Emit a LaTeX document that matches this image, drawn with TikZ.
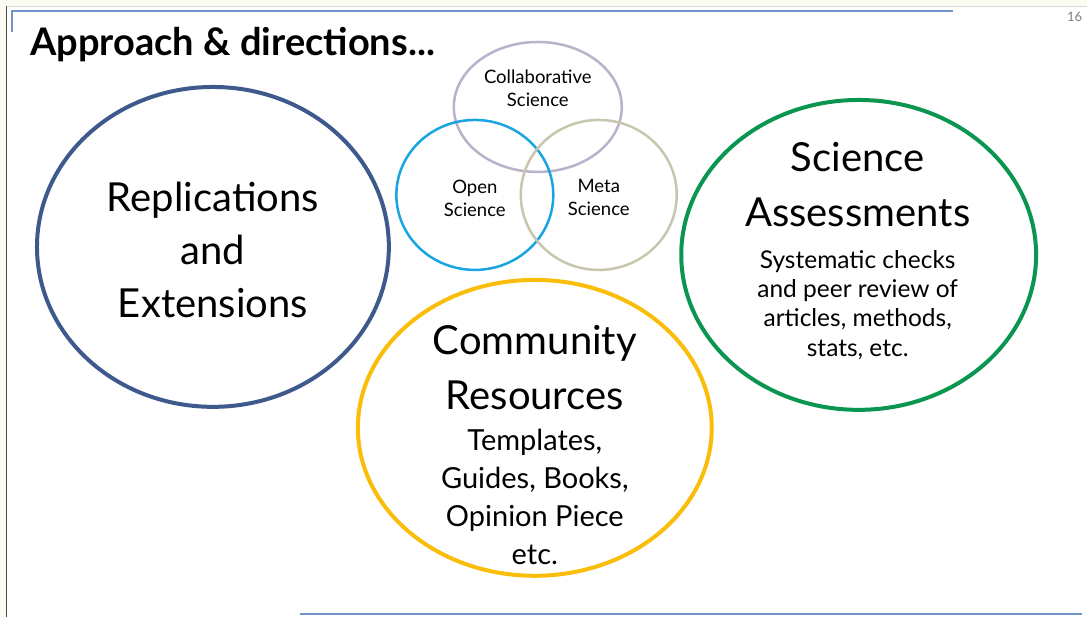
\documentclass[tikz,border=0pt]{standalone}
\usepackage{fontspec}
\setmainfont{Lato}
\usetikzlibrary{shapes.geometric}

\definecolor{cream}{RGB}{252,251,242}
\definecolor{slideblue}{RGB}{115,148,200}
\definecolor{replblue}{RGB}{62,90,140}
\definecolor{commgold}{RGB}{250,190,10}
\definecolor{assessgreen}{RGB}{10,150,80}
\definecolor{collabgrey}{RGB}{185,178,202}
\definecolor{opencyan}{RGB}{25,165,225}
\definecolor{metakhaki}{RGB}{200,198,172}

\begin{document}
\begin{tikzpicture}[x=1pt,y=-1pt]
    \tikzstyle{ring}=[ellipse, draw, line width=4pt, inner sep=0pt]
    \tikzstyle{venn}=[ellipse, draw, line width=2.5pt, inner sep=0pt]
    \tikzstyle{bigtext}=[align=center, inner sep=0pt, font=\fontsize{40}{53}\selectfont]
    \tikzstyle{headtext}=[align=center, inner sep=0pt, font=\fontsize{40}{55}\selectfont]
    \tikzstyle{midtext}=[align=center, inner sep=0pt, font=\fontsize{29}{38}\selectfont]
    \tikzstyle{smalltext}=[align=center, inner sep=0pt, font=\fontsize{24.5}{29.5}\selectfont]
    \tikzstyle{venntext}=[align=center, inner sep=0pt, font=\fontsize{18.5}{23}\selectfont]

% slide frame
\fill[cream] (0,0) rectangle (1087,617);
\fill[white] (7,6) rectangle (1087,617);
\draw[black!70, line width=1pt] (7,6) -- (7,617);
\draw[black!15, line width=0.8pt] (7,6) -- (1087,6);
\draw[slideblue, line width=2pt] (12,32) -- (12,11) -- (953,11);
\draw[slideblue, line width=2pt] (300,614) -- (1082,614);
\node[text=black!50, font=\fontsize{13}{13}\selectfont] (pagenum) at (1075,17) {16};

% title
\node[anchor=base west, inner sep=0pt, font=\fontsize{38}{38}\selectfont\bfseries] (title) at (30,56) {Approach \& directions...};

% big circles
\node[ring, draw=replblue, minimum width=352, minimum height=320] (repl) at (213,247) {};
\node[ring, draw=commgold, minimum width=354, minimum height=296] (comm) at (535,428) {};
\node[ring, draw=assessgreen, minimum width=355, minimum height=310] (assess) at (859,255) {};

% venn circles
\node[venn, draw=collabgrey, minimum width=168, minimum height=130] (collab) at (538,107) {};
\node[venn, draw=opencyan, minimum width=157, minimum height=150] (open) at (475,195) {};
\node[venn, draw=metakhaki, minimum width=156, minimum height=150] (meta) at (599,195) {};

% texts
\node[bigtext] (repltext) at (213,250) {Replications\\and\\Extensions};
\node[headtext] (commhead) at (535,368) {Community\\Resources};
\node[midtext] (commtext) at (535,497) {Templates,\\Guides, Books,\\Opinion Piece\\etc.};
\node[headtext] (assesshead) at (858,185) {Science\\Assessments};
\node[smalltext] (assesstext) at (858,305) {Systematic checks\\and peer review of\\articles, methods,\\stats, etc.};
\node[venntext] (collabtext) at (538,88) {Collaborative\\Science};
\node[venntext] (opentext) at (475,198) {Open\\Science};
\node[venntext] (metatext) at (599,198) {Meta\\Science};
\end{tikzpicture}
\end{document}
